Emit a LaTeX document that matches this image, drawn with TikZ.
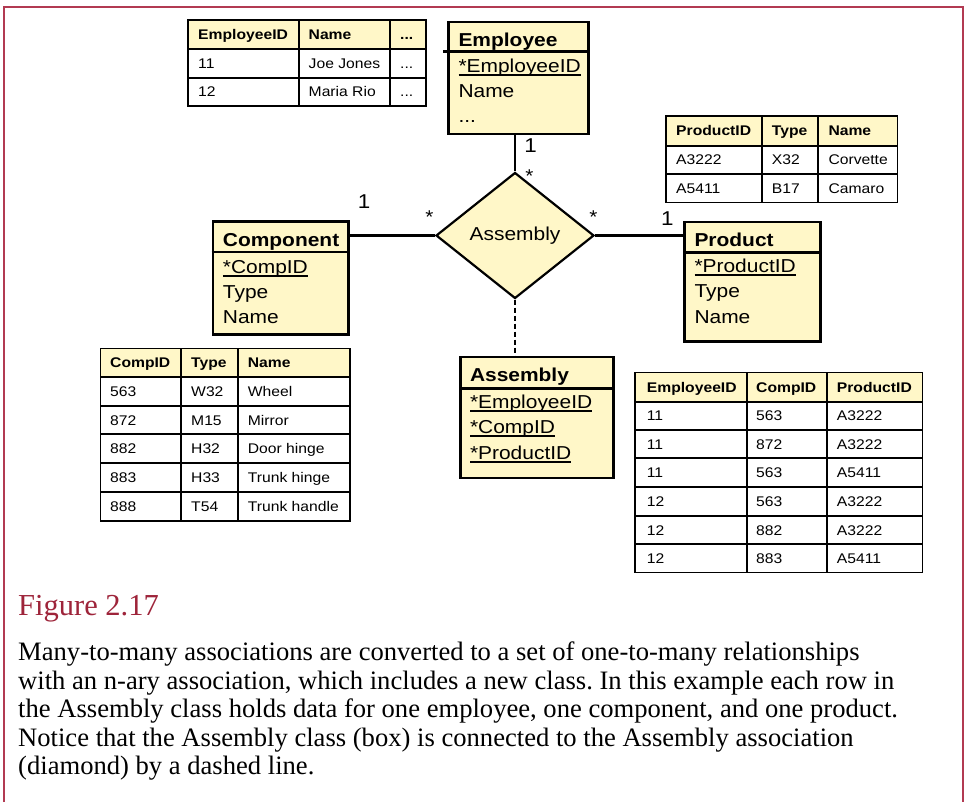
\documentclass[tikz,border=0pt]{standalone}
\usepackage{fontspec}
\usetikzlibrary{shapes.geometric,calc}
\newfontfamily\dfont[FakeStretch=1.12]{Liberation Sans}
\newfontfamily\capfont{Liberation Serif}
\definecolor{clsfill}{RGB}{255,247,200}
\definecolor{framered}{RGB}{178,58,82}
\definecolor{figred}{RGB}{158,36,58}
\newcommand\clsfont{\dfont\fontsize{18.7}{22}\selectfont}
\newcommand\tabfont{\dfont\fontsize{14}{16}\selectfont}
\newcommand\lblfont{\dfont\fontsize{20}{22}\selectfont}
\newcommand\starfont{\dfont\fontsize{18.5}{20}\selectfont}
\newcommand\captfont{\capfont\fontsize{26.6}{28.5}\selectfont}
% underlined key attribute
\newcommand\keyattr[1]{\setbox0\hbox{#1}\rlap{\rule[-3.5pt]{\wd0}{2pt}}\box0}
\frenchspacing
\begin{document}
\begin{tikzpicture}[x=1pt,y=-1pt,
  cls/.style={draw, line width=2.6pt, fill=clsfill, inner sep=0pt, anchor=north west},
  clsrule/.style={line width=2.4pt},
  ctitle/.style={anchor=base west, inner sep=0pt, font=\clsfont\bfseries},
  cattr/.style={anchor=base west, inner sep=0pt, font=\clsfont},
  assoc/.style={line width=2.4pt},
  hcell/.style={anchor=base west, inner sep=0pt, font=\tabfont\bfseries},
  dcell/.style={anchor=base west, inner sep=0pt, font=\tabfont},
  tgrid/.style={line width=2pt},
  tframe/.style={line width=1.3pt},
  mult/.style={anchor=base, inner sep=0pt, font=\lblfont},
  star/.style={anchor=base, inner sep=0pt, font=\starfont},
  captline/.style={anchor=base west, inner sep=0pt, font=\captfont},
]
\fill[white] (0,0) rectangle (965,802);
\useasboundingbox (0,0) rectangle (965,802);
% outer frame
\draw[framered, line width=1.5pt] (4,802) -- (4,7) -- (963,7) -- (963,802);

% ---------- Employee rows ----------
\fill[clsfill] (188,20) rectangle (426,49.3);
\foreach \y in {49.3,77.7} \draw[tgrid] (188,\y) -- (426,\y);
\foreach \x in {299,390} \draw[tgrid] (\x,20) -- (\x,106);
\draw[tframe] (188,20) rectangle (426,106);
\node[hcell] (eh1) at (198,39.7) {EmployeeID};
\node[hcell] (eh2) at (308.5,39.7) {Name};
\node[hcell] (eh3) at (400,39.7) {...};
\foreach \i/\y/\a/\b in {1/68.5/11/{Joe Jones}, 2/96.8/12/{Maria Rio}} {
  \node[dcell] (er\i-a) at (198,\y) {\a};
  \node[dcell] (er\i-b) at (308.5,\y) {\b};
  \node[dcell] (er\i-c) at (400,\y) {...};
}

% ---------- Product rows ----------
\fill[clsfill] (666,116) rectangle (897.3,145.7);
\foreach \y in {145.7,174} \draw[tgrid] (666,\y) -- (897.3,\y);
\foreach \x in {762,818} \draw[tgrid] (\x,116) -- (\x,202.3);
\draw[tframe] (666,116) rectangle (897.3,202.3);
\node[hcell] (ph1) at (676,135.8) {ProductID};
\node[hcell] (ph2) at (771.7,135.8) {Type};
\node[hcell] (ph3) at (828.3,135.8) {Name};
\foreach \i/\y/\a/\b/\c in {1/164.9/A3222/X32/Corvette, 2/193.2/A5411/B17/Camaro} {
  \node[dcell] (pr\i-a) at (676,\y) {\a};
  \node[dcell] (pr\i-b) at (771.7,\y) {\b};
  \node[dcell] (pr\i-c) at (828.3,\y) {\c};
}

% ---------- Component rows ----------
\fill[clsfill] (100.3,348.3) rectangle (350,376.7);
\foreach \y in {376.7,405.7,434.3,463.3,492.2} \draw[tgrid] (100.3,\y) -- (350,\y);
\foreach \x in {181,238} \draw[tgrid] (\x,348.3) -- (\x,521);
\draw[tframe] (100.3,348.3) rectangle (350,521);
\node[hcell] (ch1) at (110,367.5) {CompID};
\node[hcell] (ch2) at (191,367.5) {Type};
\node[hcell] (ch3) at (247.7,367.5) {Name};
\foreach \i/\y/\a/\b/\c in {1/396.2/563/W32/Wheel, 2/425/872/M15/Mirror,
    3/453.8/882/H32/{Door hinge}, 4/482.7/883/H33/{Trunk hinge}, 5/511.6/888/T54/{Trunk handle}} {
  \node[dcell] (cr\i-a) at (110,\y) {\a};
  \node[dcell] (cr\i-b) at (191,\y) {\b};
  \node[dcell] (cr\i-c) at (247.7,\y) {\c};
}

% ---------- Assembly rows ----------
\fill[clsfill] (635,372.7) rectangle (922.3,401.7);
\foreach \y in {401.7,430,458.3,487.3,516,544.3} \draw[tgrid] (635,\y) -- (922.3,\y);
\foreach \x in {746.7,826.7} \draw[tgrid] (\x,372.7) -- (\x,572.7);
\draw[tframe] (635,372.7) rectangle (922.3,572.7);
\node[hcell] (ah1) at (646.7,392.2) {EmployeeID};
\node[hcell] (ah2) at (756,392.2) {CompID};
\node[hcell] (ah3) at (836.7,392.2) {ProductID};
\foreach \i/\y/\a/\b/\c in {1/420.9/11/563/A3222, 2/449.2/11/872/A3222, 3/477.8/11/563/A5411,
    4/506.7/12/563/A3222, 5/535.2/12/882/A3222, 6/563.5/12/883/A5411} {
  \node[dcell] (ar\i-a) at (646.7,\y) {\a};
  \node[dcell] (ar\i-b) at (756,\y) {\b};
  \node[dcell] (ar\i-c) at (836.7,\y) {\c};
}

% ---------- classes ----------
\node[cls, minimum width=140pt, minimum height=112pt] (emp) at (447.3,20.7) {};
\draw[clsrule] ($(emp.north west)+(-4,31)$) -- ($(emp.north east)+(0,31)$);
\node[ctitle] (empT) at ($(emp.north west)+(11,26)$) {Employee};
\node[cattr] (empA1) at ($(emp.north west)+(11,52)$) {\keyattr{*EmployeeID}};
\node[cattr] (empA2) at ($(emp.north west)+(11,77)$) {Name};
\node[cattr] (empA3) at ($(emp.north west)+(11,102)$) {...};

\node[cls, minimum width=135.3pt, minimum height=113pt] (comp) at (211.7,220) {};
\draw[clsrule] ($(comp.north west)+(0,31.7)$) -- ($(comp.north east)+(0,31.7)$);
\node[ctitle] (compT) at ($(comp.north west)+(11,26.5)$) {Component};
\node[cattr] (compA1) at ($(comp.north west)+(11,53)$) {\keyattr{*CompID}};
\node[cattr] (compA2) at ($(comp.north west)+(11,78)$) {Type};
\node[cattr] (compA3) at ($(comp.north west)+(11,103)$) {Name};

\node[cls, minimum width=135.7pt, minimum height=119.3pt] (prod) at (683.3,220.7) {};
\draw[clsrule] ($(prod.north west)+(0,31.6)$) -- ($(prod.north east)+(0,31.6)$);
\node[ctitle] (prodT) at ($(prod.north west)+(11,26)$) {Product};
\node[cattr] (prodA1) at ($(prod.north west)+(11,52)$) {\keyattr{*ProductID}};
\node[cattr] (prodA2) at ($(prod.north west)+(11,77)$) {Type};
\node[cattr] (prodA3) at ($(prod.north west)+(11,102.5)$) {Name};

\node[cls, minimum width=152.9pt, minimum height=121pt] (asm) at (459.1,355.7) {};
\draw[clsrule] ($(asm.north west)+(0,32.6)$) -- ($(asm.north east)+(0,32.6)$);
\node[ctitle] (asmT) at ($(asm.north west)+(10.7,26)$) {Assembly};
\node[cattr] (asmA1) at ($(asm.north west)+(10.7,52.6)$) {\keyattr{*EmployeeID}};
\node[cattr] (asmA2) at ($(asm.north west)+(10.7,78)$) {\keyattr{*CompID}};
\node[cattr] (asmA3) at ($(asm.north west)+(10.7,103.6)$) {\keyattr{*ProductID}};

% ---------- association ----------
\node[diamond, draw, line width=2.2pt, fill=clsfill, minimum width=158pt, minimum height=126pt,
      inner sep=0pt, font=\clsfont] (dia) at (515,235.5) {Assembly};
\draw[assoc] (dia.north) -- (dia.north |- emp.south);
\draw[assoc] (dia.west) -- (dia.west -| comp.east);
\draw[assoc] (dia.east) -- (dia.east -| prod.west);
\draw[assoc, line width=2pt, dash pattern=on 5pt off 3pt] (dia.south) -- (dia.south |- asm.north);

% multiplicities
\node[mult] (m1) at (530.7,152.2) {1};
\node[star] (s1) at (529.5,182.5) {*};
\node[mult] (m2) at (364,209) {1};
\node[star] (s2) at (429.3,223.5) {*};
\node[star] (s3) at (593.3,223.5) {*};
\node[mult] (m3) at (667.3,225.5) {1};

% ---------- caption ----------
\node[anchor=base west, inner sep=0pt, font=\capfont\fontsize{30.5}{34}\selectfont, text=figred] (fig) at (18,615) {Figure 2.17};
\node[captline] (c1) at (18,660.5) {Many-to-many associations are converted to a set of one-to-many relationships};
\node[captline] (c2) at (18,689) {with an n-ary association, which includes a new class. In this example each row in};
\node[captline] (c3) at (18,717.5) {the Assembly class holds data for one employee, one component, and one product.};
\node[captline] (c4) at (18,746) {Notice that the Assembly class (box) is connected to the Assembly association};
\node[captline] (c5) at (18,774.5) {(diamond) by a dashed line.};
\end{tikzpicture}
\end{document}
